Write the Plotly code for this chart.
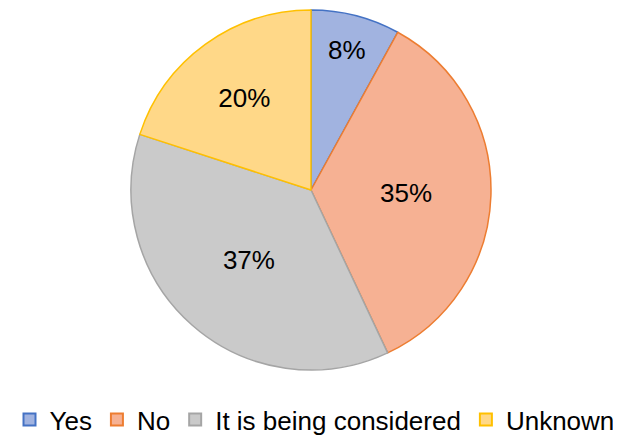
import plotly.graph_objects as go

labels = ["Yes", "No", "It is being considered", "Unknown"]
values = [8, 35, 37, 20]
fill_colors = ["#A1B3E0", "#F6B193", "#CACACA", "#FFD888"]
line_colors = ["#4472C4", "#ED7D31", "#A5A5A5", "#FFC000"]

# page body has an 8px default margin; size the figure to the visible area
OFF = 8
W, H = 621 - OFF, 437 - OFF
cx, cy, r = 311 - OFF, 190 - OFF, 180

fig = go.Figure(go.Pie(
    labels=labels,
    values=values,
    sort=False,
    direction="clockwise",
    rotation=0,
    textinfo="percent",
    texttemplate="%{percent:.0%}",
    textposition="inside",
    insidetextorientation="horizontal",
    textfont=dict(family="Liberation Sans, Arial", size=26, color="black"),
    marker=dict(colors=fill_colors, line=dict(color=line_colors, width=1.5)),
    domain=dict(x=[(cx - r) / W, (cx + r) / W], y=[1 - (cy + r) / H, 1 - (cy - r) / H]),
    hoverinfo="label+percent",
))

fig.update_layout(
    width=W, height=H,
    margin=dict(l=0, r=0, t=0, b=0, autoexpand=False),
    paper_bgcolor="white",
    plot_bgcolor="white",
    font=dict(family="Liberation Sans, Arial", color="black"),
    showlegend=True,
    legend=dict(
        orientation="h",
        x=0.5, xanchor="center",
        y=-0.014, yanchor="bottom",
        font=dict(size=26, color="black"),
        itemsizing="constant",
        traceorder="normal",
    ),
)

fig.write_html("out.html")
